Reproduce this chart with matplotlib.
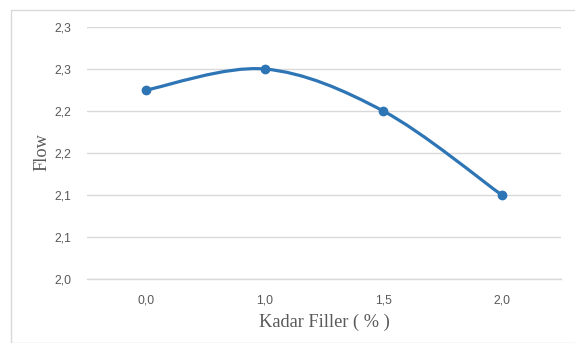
import numpy as np
import matplotlib
matplotlib.use("Agg")
import matplotlib.pyplot as plt
from matplotlib.path import Path
from matplotlib.patches import PathPatch, Rectangle

categories = ["0,0", "1,0", "1,5", "2,0"]
flow = [2.225, 2.25, 2.20, 2.10]
y_ticks = [2.00, 2.05, 2.10, 2.15, 2.20, 2.25, 2.30]
y_tick_labels = ["2,0", "2,1", "2,1", "2,2", "2,2", "2,3", "2,3"]

W, H = 575, 343
fig = plt.figure(figsize=(W / 100, H / 100), dpi=100)
fig.patch.set_facecolor("white")

# chart border
fig.patches.append(Rectangle((10.5 / W, 0), 1.2, (H - 9.5) / H, transform=fig.transFigure,
                             fill=False, edgecolor="#D9D9D9", linewidth=1.0))

ax = fig.add_axes([87 / W, (H - 279) / H, (561 - 87) / W, (279 - 27) / H])
x = np.arange(len(categories))
y = np.array(flow)

# Excel-like smoothed line (Catmull-Rom as cubic Bezier)
px = np.concatenate([[x[0]], x, [x[-1]]])
py = np.concatenate([[y[0]], y, [y[-1]]])
verts = [(x[0], y[0])]
codes = [Path.MOVETO]
for i in range(1, len(px) - 2):
    p0 = np.array([px[i - 1], py[i - 1]]); p1 = np.array([px[i], py[i]])
    p2 = np.array([px[i + 1], py[i + 1]]); p3 = np.array([px[i + 2], py[i + 2]])
    c1 = p1 + (p2 - p0) / 6
    c2 = p2 - (p3 - p1) / 6
    verts += [tuple(c1), tuple(c2), tuple(p2)]
    codes += [Path.CURVE4] * 3
ax.add_patch(PathPatch(Path(verts, codes), facecolor="none", edgecolor="#2E75B6",
                       linewidth=2.3, capstyle="round", zorder=3))
ax.plot(x, y, linestyle="none", marker="o", markersize=6, color="#2E75B6",
        markeredgecolor="#2E75B6", zorder=4)

ax.set_xlim(-0.5, len(categories) - 0.5)
ax.set_ylim(2.0, 2.3)
ax.set_yticks(y_ticks)
ax.set_yticklabels(y_tick_labels)
ax.set_xticks(x)
ax.set_xticklabels(categories)
ax.grid(axis="y", color="#D9D9D9", linewidth=1.0)
ax.set_axisbelow(True)
for s in ["top", "right", "left"]:
    ax.spines[s].set_visible(False)
ax.spines["bottom"].set_color("#D9D9D9")
ax.spines["bottom"].set_linewidth(1.0)
ax.tick_params(length=0, labelsize=8.7, labelcolor="#595959")
ax.tick_params(axis="y", pad=11)
ax.tick_params(axis="x", pad=11)
for lab in ax.get_xticklabels() + ax.get_yticklabels():
    lab.set_family("Liberation Sans")

fig.text(42 / W, 1 - 152 / H, "Flow", rotation=90, ha="center", va="center",
         family="Liberation Serif", fontsize=13.2, color="#595959")
fig.text(324 / W, 1 - 322 / H, "Kadar Filler ( % )", ha="center", va="center",
         family="Liberation Serif", fontsize=13.2, color="#595959")

fig.savefig("out.png", dpi=100, facecolor="white")
